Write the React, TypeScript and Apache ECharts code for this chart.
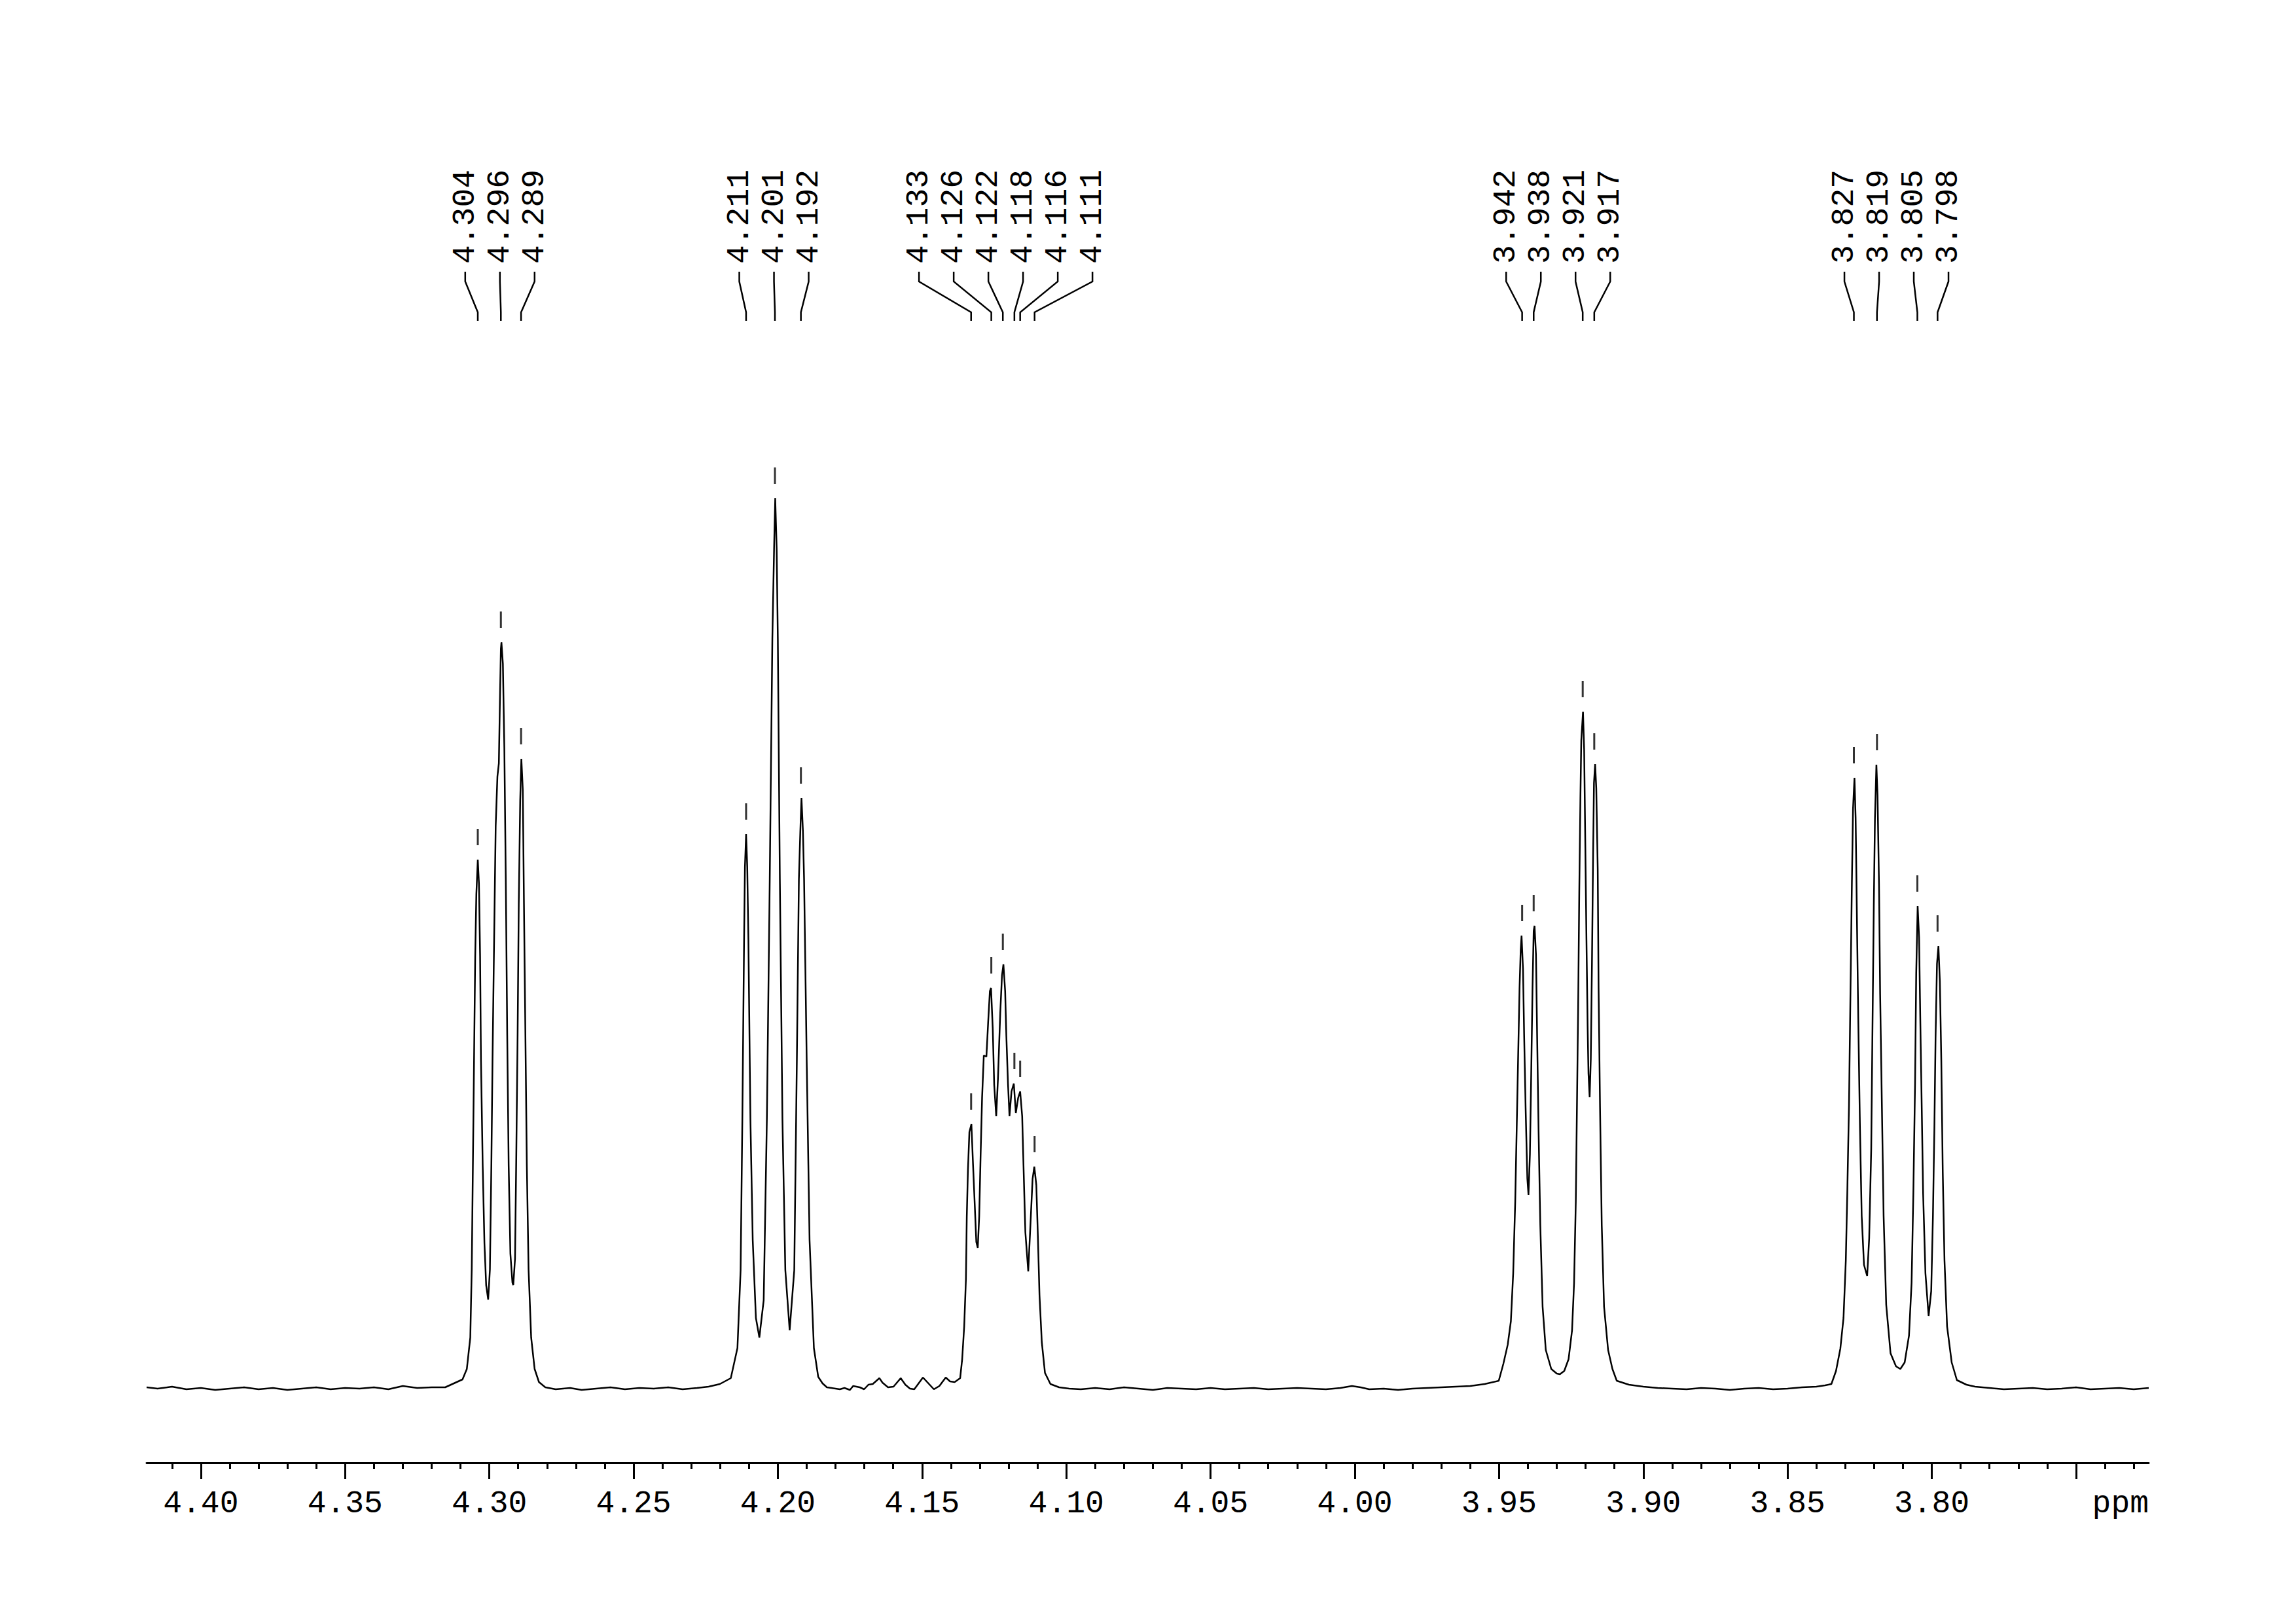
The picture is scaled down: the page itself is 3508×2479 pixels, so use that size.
import React, { useEffect, useRef } from 'react';
import * as echarts from 'echarts';

// ---------------- data (ppm, intensity) ----------------
const baselineLeft = [
  [4.4188, 2], [4.415, 0], [4.41, 3], [4.405, -1], [4.4, 1], [4.395, -2], [4.39, 0], [4.385, 2],
  [4.38, -1], [4.375, 1], [4.37, -2], [4.365, 0], [4.36, 2], [4.355, -1], [4.35, 1], [4.345, 0],
  [4.34, 2], [4.335, -1], [4.33, 4], [4.325, 1], [4.32, 2],
];
const multipletA = [
  [4.3153, 2], [4.3093, 14], [4.3078, 30], [4.3066, 78], [4.3061, 182], [4.3057, 341], [4.3053, 501],
  [4.3049, 660], [4.3045, 756], [4.304, 808], [4.3036, 772], [4.3032, 660], [4.3029, 501], [4.3023, 341],
  [4.3017, 222], [4.3011, 158], [4.3004, 136], [4.2998, 182], [4.2993, 341], [4.2989, 501], [4.2983, 700],
  [4.2978, 859], [4.2972, 935], [4.2967, 955], [4.2963, 1059], [4.296, 1130], [4.2958, 1140], [4.2953, 1107],
  [4.2948, 979], [4.2943, 780], [4.2938, 540], [4.2933, 341], [4.2927, 206], [4.292, 162], [4.2917, 158],
  [4.2911, 198], [4.2907, 341], [4.2902, 540], [4.2898, 740], [4.2893, 899], [4.2889, 962], [4.2884, 915],
  [4.288, 740], [4.2875, 540], [4.287, 341], [4.2864, 182], [4.2855, 78], [4.2843, 30], [4.2828, 10], [4.2806, 2],
];
const gapAB = [
  [4.277, -1], [4.272, 1], [4.268, -2], [4.263, 0], [4.258, 2], [4.253, -1], [4.248, 1], [4.243, 0],
  [4.238, 2], [4.233, -1], [4.228, 1], [4.224, 3],
];
const multipletB = [
  [4.2201, 7], [4.2163, 16], [4.214, 62], [4.2129, 181], [4.2123, 411], [4.2117, 686], [4.2114, 797],
  [4.211, 847], [4.2106, 797], [4.2102, 686], [4.2095, 411], [4.2087, 227], [4.2076, 108], [4.2064, 78],
  [4.2049, 135], [4.2038, 411], [4.2028, 778], [4.2019, 1145], [4.2013, 1283], [4.2009, 1360], [4.2004, 1283],
  [4.2, 1145], [4.1993, 778], [4.1984, 411], [4.1974, 181], [4.1959, 89], [4.1943, 181], [4.1934, 503],
  [4.1927, 778], [4.1922, 852], [4.1918, 902], [4.1913, 852], [4.1909, 778], [4.19, 503], [4.189, 227],
  [4.1875, 62], [4.186, 18], [4.1845, 8],
];
const gapBC = [
  [4.183, 2], [4.18, 0], [4.1785, -1], [4.1769, 1], [4.175, -2], [4.1739, 4], [4.1716, 2], [4.1701, -1],
  [4.1686, 6], [4.1671, 7], [4.1648, 16], [4.1637, 9], [4.1618, 2], [4.1599, 3], [4.1574, 16], [4.1558, 6],
  [4.1542, 0], [4.1527, -1], [4.1497, 17], [4.1478, 8], [4.1459, -1], [4.144, 4], [4.1418, 17], [4.1403, 11],
  [4.1387, 10], [4.1368, 16],
];
const multipletC = [
  [4.1361, 45], [4.1354, 95], [4.1348, 167], [4.1345, 263], [4.1341, 334], [4.1336, 392], [4.1329, 404],
  [4.1324, 349], [4.1318, 287], [4.1312, 224], [4.1307, 215], [4.1302, 263], [4.1297, 358], [4.1292, 444],
  [4.1286, 509], [4.1277, 507], [4.1271, 559], [4.1265, 607], [4.1261, 612], [4.1255, 550], [4.125, 464],
  [4.1243, 416], [4.1237, 473], [4.1229, 574], [4.1223, 631], [4.1218, 648], [4.1212, 607], [4.1208, 540],
  [4.1202, 464], [4.1197, 416], [4.119, 454], [4.1182, 466], [4.1175, 421], [4.1167, 444], [4.116, 454],
  [4.1153, 416], [4.1148, 334], [4.1142, 239], [4.1132, 179], [4.1123, 263], [4.1117, 320], [4.1111, 339],
  [4.1104, 311], [4.1099, 239], [4.1093, 143], [4.1085, 71], [4.1074, 24], [4.1055, 7], [4.1025, 2],
];
const gapCD = [
  [4.099, 0], [4.095, -1], [4.09, 1], [4.085, -1], [4.08, 2], [4.075, 0], [4.07, -2], [4.065, 1], [4.06, 0],
  [4.055, -1], [4.05, 1], [4.045, -1], [4.04, 0], [4.035, 1], [4.03, -1], [4.025, 0], [4.02, 1], [4.015, 0],
  [4.01, -1], [4.005, 1], [4.001, 4], [3.998, 2], [3.995, -1], [3.99, 0], [3.985, -2], [3.98, 0], [3.975, 1],
  [3.97, 2], [3.965, 3], [3.96, 4], [3.955, 7],
];
const multipletD = [
  [3.9501, 12], [3.9485, 38], [3.947, 67], [3.9459, 103], [3.9451, 176], [3.9444, 285], [3.9439, 394],
  [3.9434, 503], [3.9429, 612], [3.9425, 670], [3.9422, 692], [3.9417, 641], [3.9413, 539], [3.9408, 430],
  [3.9402, 321], [3.9398, 296], [3.9393, 358], [3.9389, 467], [3.9384, 612], [3.938, 699], [3.9377, 707],
  [3.9372, 663], [3.9368, 539], [3.9363, 394], [3.9357, 249], [3.9349, 125], [3.9338, 59], [3.9319, 30],
  [3.93, 23], [3.9289, 22], [3.9274, 27], [3.9259, 45], [3.9247, 89], [3.924, 161], [3.9234, 285],
  [3.923, 430], [3.9226, 576], [3.9222, 757], [3.9218, 903], [3.9215, 990], [3.9209, 1034], [3.9205, 976],
  [3.9201, 830], [3.9197, 685], [3.9193, 554], [3.919, 481], [3.9186, 445], [3.9182, 503], [3.9178, 648],
  [3.9174, 816], [3.9171, 925], [3.9167, 954], [3.9163, 917], [3.9158, 794], [3.9155, 612], [3.915, 430],
  [3.9144, 249], [3.9136, 125], [3.9122, 59], [3.9107, 30], [3.9092, 12],
];
const gapDE = [
  [3.905, 6], [3.9, 3], [3.895, 1], [3.89, 0], [3.885, -1], [3.88, 1], [3.875, 0], [3.87, -2], [3.865, 0],
  [3.86, 1], [3.855, -1], [3.85, 0], [3.845, 2], [3.84, 3], [3.837, 5],
];
const multipletE = [
  [3.8348, 7], [3.8332, 27], [3.8317, 61], [3.8306, 108], [3.8298, 196], [3.8293, 297], [3.8287, 433],
  [3.8282, 602], [3.8277, 771], [3.8273, 886], [3.8268, 933], [3.8264, 872], [3.826, 737], [3.8255, 568],
  [3.8249, 399], [3.8243, 264], [3.8235, 189], [3.8224, 172], [3.8217, 230], [3.821, 365], [3.8206, 534],
  [3.8201, 737], [3.8197, 872], [3.8192, 953], [3.8188, 906], [3.8183, 771], [3.8179, 602], [3.8173, 433],
  [3.8167, 264], [3.8158, 128], [3.8143, 54], [3.8124, 34], [3.8109, 30], [3.8094, 40], [3.8079, 81],
  [3.807, 162], [3.8064, 297], [3.8058, 466], [3.8054, 635], [3.8049, 737], [3.8044, 689], [3.804, 568],
  [3.8035, 433], [3.803, 297], [3.8022, 176], [3.8011, 111], [3.8002, 149], [3.7996, 264], [3.7991, 399],
  [3.7987, 534], [3.7982, 649], [3.7977, 676], [3.7972, 622], [3.7967, 500], [3.7962, 331], [3.7956, 196],
  [3.7947, 95], [3.7931, 40], [3.7913, 13],
];
const baselineRight = [
  [3.788, 6], [3.785, 3], [3.78, 1], [3.775, -1], [3.77, 0], [3.765, 1], [3.76, -1], [3.755, 0], [3.75, 2],
  [3.745, -1], [3.74, 0], [3.735, 1], [3.73, -1], [3.7248, 1],
];

const peakPpm = [
  4.304, 4.296, 4.289, 4.211, 4.201, 4.192, 4.133, 4.126, 4.122, 4.118, 4.116, 4.111,
  3.942, 3.938, 3.921, 3.917, 3.827, 3.819, 3.805, 3.798,
];
const peakHeight = [
  808, 1140, 962, 847, 1360, 902, 404, 612, 648, 466, 454, 339,
  692, 707, 1034, 954, 933, 953, 737, 676,
];

const tickLabelValues = [4.4, 4.35, 4.3, 4.25, 4.2, 4.15, 4.1, 4.05, 4.0, 3.95, 3.9, 3.85, 3.8];
const majorTickValues = [4.4, 4.35, 4.3, 4.25, 4.2, 4.15, 4.1, 4.05, 4.0, 3.95, 3.9, 3.85, 3.8, 3.75];
const minorTickValues = [
  4.41, 4.39, 4.38, 4.37, 4.36, 4.34, 4.33, 4.32, 4.31, 4.29, 4.28, 4.27, 4.26, 4.24, 4.23, 4.22, 4.21,
  4.19, 4.18, 4.17, 4.16, 4.14, 4.13, 4.12, 4.11, 4.09, 4.08, 4.07, 4.06, 4.04, 4.03, 4.02, 4.01, 3.99,
  3.98, 3.97, 3.96, 3.94, 3.93, 3.92, 3.91, 3.89, 3.88, 3.87, 3.86, 3.84, 3.83, 3.82, 3.81, 3.79, 3.78,
  3.77, 3.76, 3.74, 3.73,
];
const axisUnit = 'ppm';
const ppmMin = 3.7248;
const ppmMax = 4.4188;

// ---------------- layout constants ----------------
const W = 3508;
const H = 2479;
const FONT = '"Liberation Mono", "DejaVu Sans Mono", monospace';
const FONT_SIZE = 48;
const GRID = { left: 224, right: 225, top: 621, bottom: 328 };
const AXIS_OFFSET = 83;
const LABEL_GAP = 53;
const LABEL_BOTTOM = 403;
const CONN_Y = [415, 430, 477, 490];

function layoutLabels(xs: number[], gap: number): number[] {
  let clusters = xs.map((x, i) => ({ start: i, n: 1, sum: x }));
  let changed = true;
  while (changed) {
    changed = false;
    for (let k = 0; k < clusters.length - 1; k++) {
      const a = clusters[k];
      const b = clusters[k + 1];
      const aLast = a.sum / a.n + ((a.n - 1) * gap) / 2;
      const bFirst = b.sum / b.n - ((b.n - 1) * gap) / 2;
      if (bFirst - aLast < gap) {
        clusters.splice(k, 2, { start: a.start, n: a.n + b.n, sum: a.sum + b.sum });
        changed = true;
        break;
      }
    }
  }
  const out: number[] = [];
  clusters.forEach((c) => {
    const m = c.sum / c.n;
    for (let j = 0; j < c.n; j++) out[c.start + j] = m + (j - (c.n - 1) / 2) * gap;
  });
  return out;
}

export default function App() {
  const ref = useRef<HTMLDivElement>(null);

  useEffect(() => {
    if (!ref.current) return;
    const chart = echarts.init(ref.current, null, { renderer: 'svg' });
    const spectrum = [
      ...baselineLeft, ...multipletA, ...gapAB, ...multipletB, ...gapBC, ...multipletC,
      ...gapCD, ...multipletD, ...gapDE, ...multipletE, ...baselineRight,
    ];
    const peaks = peakPpm.map((p, i) => [p, peakHeight[i]]);

    const baseAxis = {
      type: 'value',
      min: ppmMin,
      max: ppmMax,
      inverse: true,
      position: 'bottom',
      offset: AXIS_OFFSET,
      splitLine: { show: false },
    };

    chart.setOption({
      animation: false,
      backgroundColor: '#ffffff',
      grid: { ...GRID, containLabel: false },
      xAxis: [
        {
          ...baseAxis,
          axisLine: { show: true, onZero: false, lineStyle: { color: '#000', width: 3 } },
          axisTick: { show: true, customValues: majorTickValues, length: 25, lineStyle: { color: '#000', width: 3 } },
          axisLabel: {
            show: true,
            customValues: tickLabelValues,
            formatter: (v: number) => v.toFixed(2),
            fontFamily: FONT,
            fontSize: FONT_SIZE,
            lineHeight: FONT_SIZE,
            color: '#000',
            margin: 39,
          },
        },
        {
          ...baseAxis,
          axisLine: { show: false, onZero: false },
          axisTick: { show: true, customValues: minorTickValues, length: 10, lineStyle: { color: '#000', width: 3 } },
          axisLabel: { show: false },
        },
      ],
      yAxis: { type: 'value', min: -30, max: 1500, show: false, splitLine: { show: false } },
      series: [
        {
          type: 'line',
          data: spectrum,
          showSymbol: false,
          symbol: 'none',
          lineStyle: { color: '#000', width: 2.5 },
          silent: true,
        },
        {
          type: 'scatter',
          data: peaks,
          symbol: 'rect',
          symbolSize: [3, 25],
          symbolOffset: [0, -34.5],
          itemStyle: { color: '#000' },
          silent: true,
        },
      ],
    });

    const xs = peakPpm.map((p) => chart.convertToPixel({ xAxisIndex: 0 }, p) as number);
    const lx = layoutLabels(xs, LABEL_GAP);
    const graphics: any[] = [];
    peakPpm.forEach((p, i) => {
      graphics.push({
        type: 'text',
        x: lx[i],
        y: LABEL_BOTTOM,
        rotation: Math.PI / 2,
        silent: true,
        style: {
          text: p.toFixed(3),
          fontFamily: FONT,
          fontSize: FONT_SIZE,
          fill: '#000',
          align: 'left',
          verticalAlign: 'middle',
        },
      });
      graphics.push({
        type: 'polyline',
        silent: true,
        shape: {
          points: [
            [lx[i], CONN_Y[0]],
            [lx[i], CONN_Y[1]],
            [xs[i], CONN_Y[2]],
            [xs[i], CONN_Y[3]],
          ],
        },
        style: { stroke: '#000', lineWidth: 2.5, fill: null },
      });
    });
    const axisRight = chart.convertToPixel({ xAxisIndex: 0 }, ppmMin) as number;
    graphics.push({
      type: 'text',
      x: axisRight,
      y: 2297,
      silent: true,
      style: {
        text: axisUnit,
        fontFamily: FONT,
        fontSize: FONT_SIZE,
        fill: '#000',
        align: 'right',
        verticalAlign: 'middle',
      },
    });
    chart.setOption({ graphic: graphics });

    return () => chart.dispose();
  }, []);

  return (
    <div
      ref={ref}
      style={{ position: 'absolute', left: 0, top: 0, width: W, height: H, background: '#fff' }}
    />
  );
}
